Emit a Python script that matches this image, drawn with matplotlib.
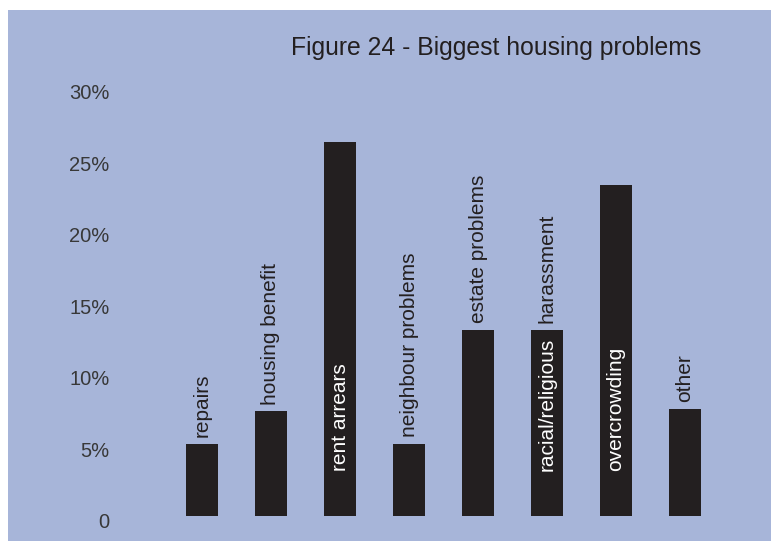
import numpy as np
import matplotlib
matplotlib.use('Agg')
import matplotlib.pyplot as plt
import matplotlib.transforms as mtransforms
from matplotlib.patches import Rectangle

plt.rcParams['font.family'] = ['Liberation Sans', 'DejaVu Sans']

# Survey results (percent of respondents)
categories = ['repairs', 'housing benefit', 'rent arrears', 'neighbour problems',
              'estate problems', 'racial/religious harassment', 'overcrowding', 'other']
values = [5.0, 7.3, 26.1, 5.0, 13.0, 13.0, 23.1, 7.5]

# Text written inside the bar (white) and above the bar (dark)
label_inside = ['', '', 'rent arrears', '', '', 'racial/religious', 'overcrowding', '']
label_above = ['repairs', 'housing benefit', '', 'neighbour problems',
               'estate problems', 'harassment', '', 'other']

y_ticks = [0, 5, 10, 15, 20, 25, 30]
y_tick_labels = ['0', '5%', '10%', '15%', '20%', '25%', '30%']

bg_blue = '#a7b5d9'
bar_dark = '#231f20'

fig = plt.figure(figsize=(7.71, 5.42), dpi=100)
fig.patch.set_facecolor('white')
fig.patches.append(Rectangle((8 / 771, 1 / 542), 1, 531 / 542,
                             transform=fig.transFigure, facecolor=bg_blue,
                             edgecolor='none', zorder=0))

ax = fig.add_axes([133 / 771, 26 / 542, 621 / 771, 429.5 / 542])
ax.set_zorder(2)
ax.set_facecolor('none')

x = np.arange(len(categories))
ax.bar(x, values, width=0.464, color=bar_dark, zorder=2)

for xi, v, inside, above in zip(x, values, label_inside, label_above):
    if above:
        ax.annotate(above, (xi, v), xytext=(0, 5), textcoords='offset points',
                    rotation=90, ha='center', va='bottom', fontsize=15,
                    color=bar_dark, zorder=3)
    if inside:
        ax.annotate(inside, (xi, 0), xytext=(0, 32.4), textcoords='offset points',
                    rotation=90, ha='center', va='bottom', fontsize=15,
                    color='white', zorder=3)

ax.set_xlim(-1, 8)
ax.set_ylim(0, 30)
ax.set_xticks([])
ax.set_yticks(y_ticks)
ax.set_yticklabels(y_tick_labels, fontsize=14.5, color='#383838')
ax.tick_params(axis='y', length=0, pad=17)
for s in ax.spines.values():
    s.set_visible(False)

# nudge the tick labels a little below their gridline positions
shift = mtransforms.ScaledTranslation(0, -5 / 100, fig.dpi_scale_trans)
for lbl in ax.get_yticklabels():
    lbl.set_transform(lbl.get_transform() + shift)

fig.text(496 / 771, 1 - 48 / 542, 'Figure 24 - Biggest housing problems',
         ha='center', va='center', fontsize=17.8, color=bar_dark)

fig.savefig('out.png', dpi=100)
